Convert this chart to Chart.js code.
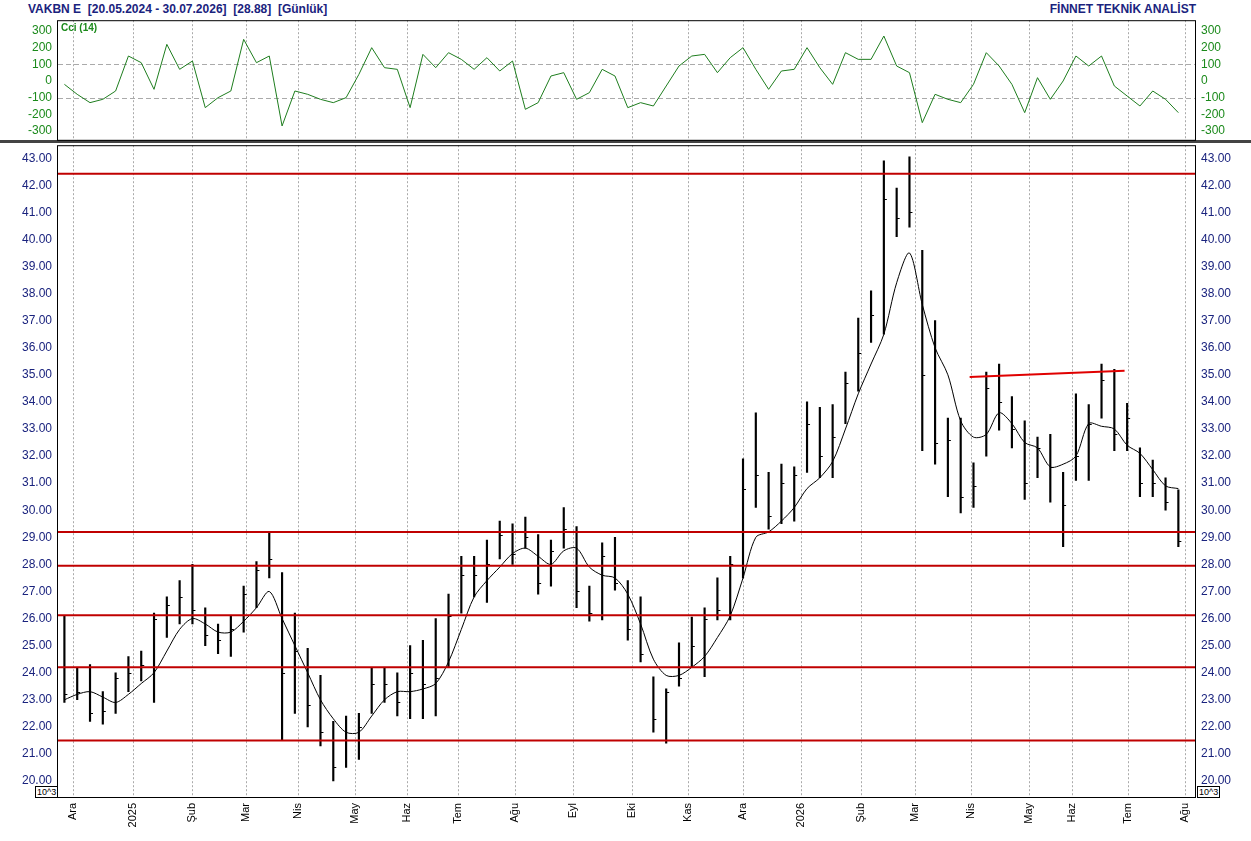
<!DOCTYPE html>
<html>
<head>
<meta charset="utf-8">
<script src="https://cdn.jsdelivr.net/npm/chart.js@4.4.1/dist/chart.umd.min.js"></script>
<style>
  body { margin: 0; background: #fff; width: 1251px; height: 841px; overflow: hidden; position: relative; font-family: "Liberation Sans", Arial, sans-serif; }
  #hdr { position: absolute; left: 28px; top: 2px; font-size: 12px; font-weight: bold; color: #1a237e; }
  #brand { position: absolute; right: 55px; top: 2px; font-size: 12px; font-weight: bold; color: #1a237e; }
  #cciWrap { position: absolute; left: 0; top: 11px; width: 1251px; height: 138px; }
  #mainWrap { position: absolute; left: 0; top: 136px; width: 1251px; height: 705px; }
  #sep { position: absolute; left: 0; top: 140px; width: 1251px; height: 3px; background: #444; }
  .exp { position: absolute; top: 786px; font-size: 9px; border: 1px solid #000; background: #fff; padding: 0 1px; line-height: 10px; }
</style>
</head>
<body>
<div id="hdr">VAKBN E&nbsp; [20.05.2024 - 30.07.2026]&nbsp; [28.88]&nbsp; [Günlük]</div>
<div id="brand">FİNNET TEKNİK ANALİST</div>
<div id="sep"></div>
<div id="cciWrap"><canvas id="cciChart"></canvas></div>
<div id="mainWrap"><canvas id="priceChart"></canvas></div>
<div class="exp" style="left:35px">10^3</div>
<div class="exp" style="left:1197px">10^3</div>
<script>
// weekly bars, Nov 2024 - Jul 2026
const highs = [26.1,24.2,24.3,23.3,24.0,24.6,24.8,26.2,26.8,27.4,28.0,26.4,25.8,26.1,27.2,28.1,29.2,27.7,26.2,24.9,23.9,22.2,22.4,22.5,24.2,24.2,24.0,25.0,
  25.2,26.0,26.9,28.3,28.3,28.9,29.6,29.5,29.75,29.1,28.9,30.1,29.4,27.2,28.8,29.0,27.4,26.8,23.85,23.4,25.1,26.05,26.4,27.5,28.3,
  31.9,33.6,31.4,31.7,31.6,34.0,33.8,33.9,35.1,37.1,38.1,42.9,41.9,43.05,39.6,37.0,33.4,33.4,31.75,35.1,35.4,34.2,33.3,32.7,32.8,31.4,34.3,33.9,35.4,35.2,33.95,32.3,31.85,31.2,30.75];
const lows = [22.9,23.0,22.2,22.1,22.5,23.3,23.7,22.9,25.3,25.8,25.8,25.0,24.7,24.6,25.5,26.4,27.5,21.5,22.5,22.0,21.3,20.0,20.5,20.8,22.5,22.9,22.4,22.3,
  22.3,22.4,24.2,26.2,26.8,26.6,28.2,28.0,28.6,26.9,27.2,28.6,26.4,25.9,25.95,27.05,25.2,24.4,21.8,21.4,23.5,24.2,23.85,25.95,25.95,
  27.5,30.1,29.3,29.5,29.6,31.4,31.2,31.2,33.2,34.4,36.2,36.5,40.1,40.45,32.2,31.7,30.5,29.9,30.1,32.0,32.96,32.3,30.4,31.2,30.3,28.65,31.1,31.1,33.4,32.2,32.2,30.5,30.5,30.0,28.65];
const closes = [23.2,23.3,22.5,22.6,23.8,24.0,24.3,26.0,26.5,26.8,26.3,25.4,25.2,25.6,26.9,27.8,28.2,24.0,24.8,22.8,21.8,20.5,21.5,22.0,23.6,23.6,22.9,24.0,
  23.6,23.8,26.1,27.6,27.6,28.0,29.1,28.4,29.0,27.3,28.5,29.3,27.0,26.2,28.3,27.3,25.6,24.7,22.3,23.3,23.8,25.0,26.0,26.3,28.0,
  30.8,31.3,29.8,31.0,31.3,33.2,32.0,32.7,34.7,35.8,37.2,41.5,40.8,41.0,35.0,32.5,32.6,30.5,30.9,34.5,34.0,33.0,31.0,32.3,31.6,30.2,32.0,33.2,34.8,32.8,33.4,31.0,31.0,30.3,28.88];
const movAvg = [23.0,23.2,23.3,23.1,22.9,23.2,23.6,24.0,24.8,25.6,26.0,25.8,25.5,25.5,25.9,26.4,27.0,26.0,25.0,24.0,23.0,22.3,21.8,21.8,22.4,23.0,23.3,23.3,
  23.4,23.6,24.4,25.6,26.8,27.4,27.9,28.4,28.6,28.3,28.0,28.5,28.6,27.9,27.6,27.5,26.9,25.8,24.5,23.9,23.9,24.2,24.6,25.3,26.1,
  27.5,29.0,29.2,29.6,30.1,30.8,31.2,31.8,33.0,34.3,35.4,36.5,38.4,39.5,37.6,36.0,35.0,33.3,32.7,32.8,33.6,33.2,32.5,32.3,31.6,31.7,32.0,33.2,33.1,33.0,32.4,32.1,31.5,30.9,30.8];
const cci = [-20,-80,-130,-110,-60,150,110,-50,220,70,120,-160,-100,-60,250,110,150,-270,-60,-80,-110,-130,-100,40,200,80,70,-160,
  160,80,170,130,70,140,60,120,-170,-130,30,50,-110,-70,70,30,-160,-130,-150,-30,90,150,160,50,140,
  200,70,-50,60,70,200,80,-20,170,130,130,270,90,50,-250,-80,-110,-130,-20,170,90,-20,-190,20,-110,0,150,90,150,-30,-90,-150,-60,-110,-190];
const supportLevels = [42.43, 29.2, 27.95, 26.12, 24.2, 21.5];
const trendX = [71.2, 83.3];
const trendY = [34.92, 35.15];
const monthPos = [1.17,5.86,10.47,14.69,18.75,23.2,27.27,31.25,35.7,40.2,44.84,49.2,53.5,58.0,62.7,66.9,71.3,75.8,79.2,83.6,88.05];
const monthLabels = ['Ara','2025','Şub','Mar','Nis','May','Haz','Tem','Ağu','Eyl','Eki','Kas','Ara','2026','Şub','Mar','Nis','May','Haz','Tem','Ağu'];
const priceTicks = [20,21,22,23,24,25,26,27,28,29,30,31,32,33,34,35,36,37,38,39,40,41,42,43];
const cciTicks = [-300,-200,-100,0,100,200,300];

const FONT = { family: 'Liberation Sans', size: 12 };
const NAVY = '#1a237e';
const GREEN = '#1b8a1b';
const X_MAX = 88.8;

function xScaleCfg(showLabels) {
  return {
    type: 'linear', min: 0, max: X_MAX, offset: false,
    afterBuildTicks: s => { s.ticks = monthPos.map(v => ({ value: v })); },
    afterFit: s => { s.height = showLabels ? 44 : 0; },
    grid: { display: false, drawTicks: showLabels, tickLength: 4, color: '#000', offset: false },
    border: { display: false },
    ticks: {
      display: showLabels, autoSkip: false, minRotation: 90, maxRotation: 90,
      color: '#000', font: { family: 'Liberation Sans', size: 11 }, padding: 2,
      callback: (v, i) => monthLabels[i]
    }
  };
}

function yAxis(pos, min, max, ticks, fmt, color) {
  return {
    position: pos, min, max,
    afterBuildTicks: s => { s.ticks = ticks.map(v => ({ value: v })); },
    afterFit: s => { s.width = pos === 'left' ? 58 : 56; },
    grid: { display: false, drawTicks: true, tickLength: 4 },
    border: { display: false },
    ticks: { color, font: FONT, padding: 2, callback: fmt }
  };
}

// frame, month grid, dashed levels
const panelDecor = {
  id: 'panelDecor',
  beforeDatasetsDraw(chart, args, opts) {
    const { ctx, chartArea: a, scales: { x, y } } = chart;
    ctx.save();
    ctx.strokeStyle = '#aaa';
    ctx.lineWidth = 1;
    ctx.setLineDash([2, 2]);
    monthPos.forEach(m => {
      const px = Math.round(x.getPixelForValue(m)) + 0.5;
      ctx.beginPath(); ctx.moveTo(px, a.top); ctx.lineTo(px, a.bottom); ctx.stroke();
    });
    ctx.setLineDash([5, 3]);
    (opts.dashed || []).forEach(v => {
      const py = Math.round(y.getPixelForValue(v)) + 0.5;
      ctx.beginPath(); ctx.moveTo(a.left, py); ctx.lineTo(a.right, py); ctx.stroke();
    });
    ctx.restore();
  },
  afterDraw(chart) {
    const { ctx, chartArea: a } = chart;
    ctx.save();
    ctx.strokeStyle = '#000';
    ctx.lineWidth = 1;
    ctx.strokeRect(a.left - 0.5, a.top + 0.5, a.right - a.left + 1, a.bottom - a.top);
    ctx.restore();
  }
};

// close ticks + red support lines + trend line
const priceMarks = {
  id: 'priceMarks',
  afterDatasetsDraw(chart) {
    const { ctx, chartArea: a, scales: { x, y } } = chart;
    ctx.save();
    ctx.strokeStyle = '#000';
    ctx.lineWidth = 1;
    closes.forEach((c, i) => {
      const px = x.getPixelForValue(i + 0.5);
      const py = Math.round(y.getPixelForValue(c)) + 0.5;
      ctx.beginPath(); ctx.moveTo(px, py); ctx.lineTo(px + 3, py); ctx.stroke();
    });
    ctx.strokeStyle = '#c00000';
    ctx.lineWidth = 2;
    supportLevels.forEach(v => {
      const py = y.getPixelForValue(v);
      ctx.beginPath(); ctx.moveTo(a.left, py); ctx.lineTo(a.right, py); ctx.stroke();
    });
    ctx.strokeStyle = '#e00000';
    ctx.beginPath();
    ctx.moveTo(x.getPixelForValue(trendX[0]), y.getPixelForValue(trendY[0]));
    ctx.lineTo(x.getPixelForValue(trendX[1]), y.getPixelForValue(trendY[1]));
    ctx.stroke();
    ctx.restore();
  }
};

const cciLabel = {
  id: 'cciLabel',
  afterDraw(chart) {
    const { ctx, chartArea: a } = chart;
    ctx.save();
    ctx.fillStyle = GREEN;
    ctx.font = 'bold 10px "Liberation Sans"';
    ctx.textBaseline = 'top';
    ctx.fillText('Cci (14)', a.left + 3, a.top + 3);
    ctx.restore();
  }
};

Chart.defaults.animation = false;

new Chart(document.getElementById('cciChart'), {
  type: 'line',
  data: { datasets: [{
    data: cci.map((v, i) => ({ x: i + 0.5, y: v })),
    borderColor: '#1e7d1e', borderWidth: 1, pointRadius: 0, tension: 0
  }] },
  options: {
    responsive: true, maintainAspectRatio: false,
    layout: { padding: 0 },
    plugins: { legend: { display: false }, tooltip: { enabled: false }, panelDecor: { dashed: [100, -100] } },
    scales: {
      x: xScaleCfg(false),
      y: yAxis('left', -353, 365, cciTicks, v => v, GREEN),
      y2: yAxis('right', -353, 365, cciTicks, v => v, GREEN)
    }
  },
  plugins: [panelDecor, cciLabel]
});

new Chart(document.getElementById('priceChart'), {
  data: { datasets: [
    {
      type: 'bar',
      data: highs.map((h, i) => ({ x: i + 0.5, y: [lows[i], h] })),
      backgroundColor: '#000', barThickness: 1.5, borderWidth: 0
    },
    {
      type: 'line',
      data: movAvg.map((v, i) => ({ x: i + 0.5, y: v })),
      borderColor: '#000', borderWidth: 1, pointRadius: 0, tension: 0.3
    }
  ] },
  options: {
    responsive: true, maintainAspectRatio: false,
    layout: { padding: 0 },
    plugins: { legend: { display: false }, tooltip: { enabled: false }, panelDecor: { dashed: [] } },
    scales: {
      x: xScaleCfg(true),
      y: yAxis('left', 19.41, 43.48, priceTicks, v => v.toFixed(2), NAVY),
      y2: yAxis('right', 19.41, 43.48, priceTicks, v => v.toFixed(2), NAVY)
    }
  },
  plugins: [panelDecor, priceMarks]
});
</script>
</body>
</html>
